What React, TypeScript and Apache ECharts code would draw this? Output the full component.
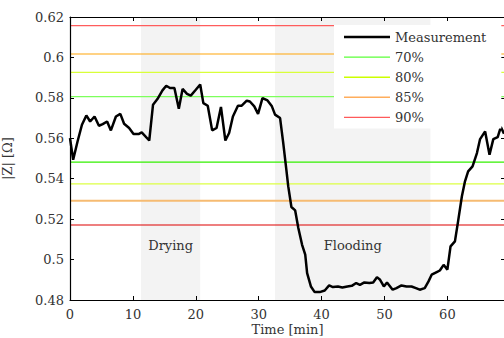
import React, { useEffect, useRef } from "react";
import * as echarts from "echarts";

// Measured impedance magnitude over time
const timeMin = [
  0.0, 0.5, 1.2, 1.9, 2.6, 3.2, 3.9, 4.6, 5.2, 5.9, 6.5, 7.3, 8.0, 8.6, 9.4, 10.1, 10.9, 11.4, 12.6, 13.2,
  13.9, 14.7, 15.3, 15.9, 16.6, 17.3, 17.9, 18.6, 19.2, 20.0, 20.7, 21.2, 21.9, 22.6, 23.3, 24.0, 24.7, 25.3,
  25.9, 26.7, 27.3, 28.1, 28.6, 29.3, 29.9, 30.6, 31.4, 32.1, 32.6, 33.4, 33.9, 34.4, 34.7, 35.2, 35.8, 36.3,
  36.9, 37.4, 37.7, 38.3, 38.9, 39.7, 40.5, 41.2, 41.8, 42.6, 43.3, 44.1, 44.8, 45.5, 46.1, 46.8, 47.6, 48.2,
  48.8, 49.3, 49.9, 50.4, 51.3, 51.9, 52.7, 53.5, 54.3, 55.0, 55.6, 56.4, 57.0, 57.5, 58.3, 58.8, 59.4, 60.0,
  60.5, 61.2, 61.7, 62.3, 62.8, 63.3, 64.0, 64.7, 65.2, 66.0, 66.7, 67.3, 68.0, 68.5, 69.0,
];
const impedance = [
  0.5601, 0.5494, 0.5584, 0.5667, 0.5713, 0.5683, 0.5708, 0.5662, 0.567, 0.5683, 0.5639, 0.5708, 0.5721,
  0.5672, 0.5651, 0.5621, 0.5621, 0.5629, 0.5589, 0.5766, 0.5794, 0.5837, 0.586, 0.5849, 0.5849, 0.5746,
  0.5844, 0.582, 0.5811, 0.584, 0.5866, 0.5774, 0.5761, 0.5639, 0.5651, 0.5755, 0.5589, 0.5626, 0.5708,
  0.5761, 0.5761, 0.5786, 0.5782, 0.5758, 0.5721, 0.5799, 0.5787, 0.5758, 0.5717, 0.57, 0.5577, 0.5444,
  0.5362, 0.526, 0.5243, 0.5156, 0.5073, 0.5024, 0.4933, 0.4867, 0.4839, 0.4839, 0.4847, 0.4872, 0.4864,
  0.4867, 0.4862, 0.4867, 0.487, 0.4884, 0.4875, 0.4887, 0.4884, 0.4887, 0.4913, 0.49, 0.4867, 0.4887,
  0.4851, 0.4859, 0.4872, 0.4867, 0.4867, 0.4859, 0.4851, 0.4859, 0.4892, 0.4925, 0.4938, 0.4946, 0.4974,
  0.495, 0.5065, 0.509, 0.5189, 0.5312, 0.5387, 0.5436, 0.5461, 0.5527, 0.5596, 0.5634, 0.5519, 0.5596,
  0.5606, 0.5656, 0.5623,
];

// Threshold bands (upper / lower limit per level)
const levelNames = ["70%", "80%", "85%", "90%"];
const upperLimits = [0.5806, 0.5926, 0.6017, 0.6157];
const lowerLimits = [0.5482, 0.5374, 0.5291, 0.5171];
const upperColors = ["#7dff5c", "#d9ff3a", "#ffa50a", "#ff5c5c"];
const lowerColors = ["#33f000", "#dcff45", "#f6bb72", "#dd0000"];
const lowerWidths = [1.2, 1.2, 1.8, 1.2];
const legendColors = ["#5cff3a", "#ccff00", "#ffad5c", "#ff5a5a"];

// Process phases
const phaseNames = ["Drying", "Flooding"];
const phaseStart = [11.3, 32.6];
const phaseEnd = [20.7, 57.3];

const xTicks = { min: 0, max: 69.16, step: 10 };
const yTicks = { min: 0.48, max: 0.62, step: 0.02 };

const FONT = "DejaVu Serif";
const TEXT_COLOR = "#333";

// Legend swatches: a horizontal bar centred in a 46x14 box (corner points fix the box size)
const swatch = (w: number) => {
  const a = (7 - w / 2).toFixed(2);
  const b = (7 + w / 2).toFixed(2);
  return `path://M0,0L46,0M0,14L46,14M0,${a}H46V${b}H0Z`;
};

export default function App() {
  const ref = useRef<HTMLDivElement>(null);

  useEffect(() => {
    if (!ref.current) return;
    const chart = echarts.init(ref.current, null, { renderer: "svg" });

    const measurement = timeMin.map((t, i) => [t, impedance[i]]);

    const thresholdSeries: any[] = [];
    levelNames.forEach((name, i) => {
      [
        { v: upperLimits[i], c: upperColors[i], w: 1.2 },
        { v: lowerLimits[i], c: lowerColors[i], w: lowerWidths[i] },
      ].forEach(({ v, c, w }) => {
        thresholdSeries.push({
          name,
          type: "line",
          data: [
            [xTicks.min, v],
            [xTicks.max, v],
          ],
          symbol: "none",
          silent: true,
          z: 3,
          lineStyle: { color: c, width: w },
          itemStyle: { color: c },
        });
      });
    });

    const axisLine = { show: true, onZero: false, lineStyle: { color: "#000", width: 1.2 } };
    const axisTick = { show: true, inside: true, length: 4, lineStyle: { color: "#000", width: 1 } };
    const labelStyle = { fontFamily: FONT, fontSize: 13, color: TEXT_COLOR };

    chart.setOption({
      animation: false,
      backgroundColor: "#fff",
      grid: {
        left: 70,
        right: 5,
        top: 17,
        bottom: 38,
        containLabel: false,
        outerBoundsMode: "none",
      },
      xAxis: [
        {
          type: "value",
          position: "bottom",
          min: xTicks.min,
          max: xTicks.max,
          interval: xTicks.step,
          z: 8,
          axisLine,
          axisTick,
          splitLine: { show: false },
          axisLabel: { ...labelStyle, margin: 8, showMaxLabel: false },
          name: "Time [min]",
          nameLocation: "middle",
          nameGap: 23,
          nameMoveOverlap: false,
          nameTextStyle: labelStyle,
        },
        {
          type: "value",
          position: "top",
          min: xTicks.min,
          max: xTicks.max,
          interval: xTicks.step,
          z: 8,
          axisLine,
          axisTick,
          splitLine: { show: false },
          axisLabel: { show: false },
        },
      ],
      yAxis: [
        {
          type: "value",
          position: "left",
          min: yTicks.min,
          max: yTicks.max,
          interval: yTicks.step,
          z: 8,
          axisLine,
          axisTick,
          splitLine: { show: false },
          axisLabel: {
            ...labelStyle,
            margin: 6,
            formatter: (v: number) => String(+v.toFixed(2)),
          },
          name: "|Z| [Ω]",
          nameLocation: "middle",
          nameGap: 56,
          nameRotate: 90,
          nameTextStyle: labelStyle,
        },
        {
          type: "value",
          position: "right",
          min: yTicks.min,
          max: yTicks.max,
          interval: yTicks.step,
          z: 8,
          axisLine,
          axisTick,
          splitLine: { show: false },
          axisLabel: { show: false },
        },
      ],
      legend: {
        orient: "vertical",
        left: 334,
        top: 25,
        padding: [5, 15, 4, 10],
        itemWidth: 46,
        itemHeight: 14,
        itemGap: 6.1,
        backgroundColor: "#fff",
        borderWidth: 0,
        z: 10,
        selectedMode: false,
        textStyle: labelStyle,
        data: [
          {
            name: "Measurement",
            icon: swatch(2.5),
            itemStyle: { color: "#000", borderWidth: 0 },
          },
          ...levelNames.map((n, i) => ({
            name: n,
            icon: swatch(1.4),
            itemStyle: { color: legendColors[i], borderWidth: 0 },
          })),
        ],
      },
      series: [
        {
          name: "phases",
          type: "line",
          data: [],
          silent: true,
          z: 1,
          markArea: {
            silent: true,
            itemStyle: { color: "#f3f3f3" },
            label: {
              show: true,
              position: "insideBottom",
              distance: 48,
              ...labelStyle,
            },
            data: phaseNames.map((n, i) => [
              { name: n, xAxis: phaseStart[i] },
              { xAxis: phaseEnd[i] },
            ]),
          },
        },
        ...thresholdSeries,
        {
          name: "Measurement",
          type: "line",
          data: measurement,
          symbol: "none",
          z: 5,
          lineStyle: { color: "#000", width: 2.5 },
          itemStyle: { color: "#000" },
        },
      ],
    });

    return () => chart.dispose();
  }, []);

  return (
    <div
      style={{
        position: "fixed",
        left: 0,
        top: 0,
        width: 504,
        height: 338,
        overflow: "hidden",
        background: "#fff",
      }}
    >
      <div ref={ref} style={{ width: 510, height: 338 }} />
    </div>
  );
}
